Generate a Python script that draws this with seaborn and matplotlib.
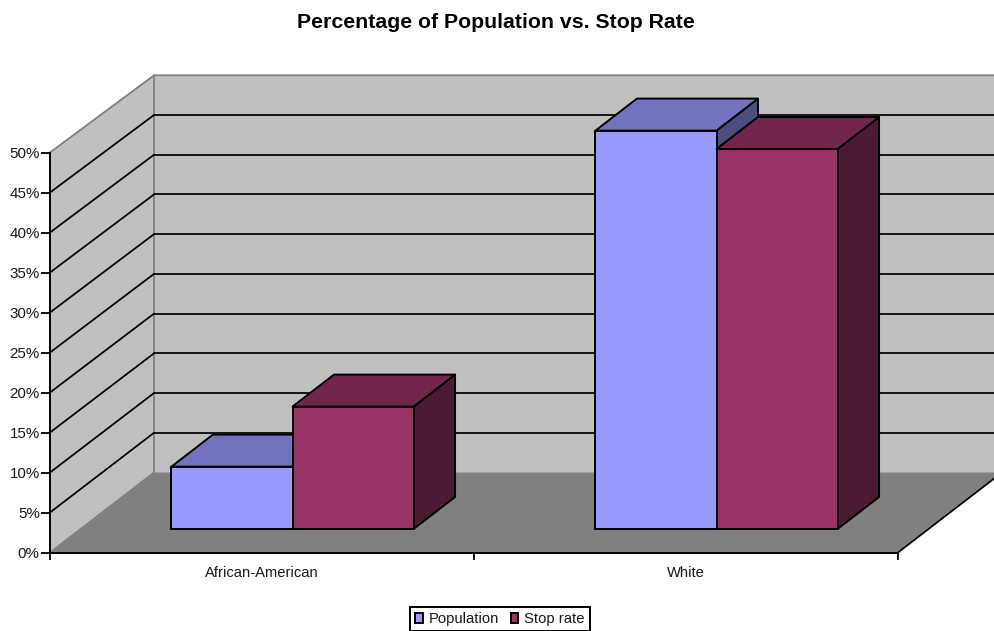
import matplotlib
matplotlib.use("Agg")
import matplotlib.pyplot as plt
import pandas as pd
import seaborn as sns
from matplotlib.patches import Polygon

# Chart content
categories = ["African-American", "White"]
series_names = ["Population", "Stop rate"]
population = [7.8, 49.8]
stop_rate = [15.3, 47.5]
y_ticks = [0, 5, 10, 15, 20, 25, 30, 35, 40, 45, 50]
y_labels = ["0%", "5%", "10%", "15%", "20%", "25%", "30%", "35%", "40%", "45%", "50%"]
title = "Percentage of Population vs. Stop Rate"

# Colours
front_colors = ["#9999FF", "#993366"]
top_colors = ["#7373BF", "#73264D"]
side_colors = ["#4D4D80", "#4D1A33"]
WALL = "#C0C0C0"
FLOOR = "#808080"

sns.set_theme(style="white")
plt.rcParams["font.family"] = ["Liberation Sans", "DejaVu Sans"]

W, H = 994, 631
fig = plt.figure(figsize=(W / 100, H / 100), dpi=100, facecolor="white")


def rect(left, right, bottom, top):
    return [left / W, (H - bottom) / H, (right - left) / W, (bottom - top) / H]


# Main axes hold the category/percent scales of the front plane
ax = fig.add_axes(rect(50, 898, 552.5, 152.5), facecolor="none")
ax.set_xlim(-0.5, 1.5)
ax.set_ylim(0, 50)

# Oblique depth of the chart box, in axis units
depth_x = 104 / 424
depth_y = 10.0
wall_scale = 0.993
x0, x1 = -0.5, 1.5
bx0, bx1 = x0 + depth_x, x1 + depth_x
back_top = 50 * wall_scale + depth_y

box = dict(clip_on=False, linewidth=0)
ax.add_patch(Polygon([(bx0, depth_y), (bx1, depth_y), (bx1, back_top), (bx0, back_top)],
                     facecolor=WALL, zorder=1, **box))
ax.add_patch(Polygon([(x0, 0), (bx0, depth_y), (bx0, back_top), (x0, 50)],
                     facecolor=WALL, zorder=1, **box))
ax.add_patch(Polygon([(x0, 0), (x1, 0), (bx1, depth_y), (bx0, depth_y)],
                     facecolor=FLOOR, zorder=1.5, **box))

# Grey outline of the walls
ax.plot([x0, bx0, bx1], [50, back_top, back_top], color=FLOOR, lw=1.3, clip_on=False, zorder=2)
ax.plot([x0, bx0, bx0], [0, depth_y, back_top], color=FLOOR, lw=1.3, clip_on=False, zorder=2)

# Gridlines run across the side wall and the back wall
for v in y_ticks[1:-1]:
    back_v = v * wall_scale + depth_y
    ax.plot([x0, bx0], [v, back_v], color="black", lw=1.25, clip_on=False, zorder=3)
    ax.plot([bx0, bx1], [back_v, back_v], color="black", lw=1.25, clip_on=False, zorder=3)

# Floor's right edge
ax.plot([x1, bx1], [0, depth_y], color="black", lw=1.25, clip_on=False, zorder=3)

# Axis styling
for name in ("top", "right"):
    ax.spines[name].set_visible(False)
for name in ("left", "bottom"):
    ax.spines[name].set_color("black")
    ax.spines[name].set_linewidth(1.4)
    ax.spines[name].set_zorder(4)
ax.set_yticks(y_ticks, y_labels)
ax.set_xticks([-0.5, 0.5, 1.5], ["", "", ""])
ax.set_xticks([0, 1], categories, minor=True)
ax.tick_params(axis="y", which="major", left=True, length=6.2, width=1.3, color="black",
               labelsize=10.9, labelcolor="#1a1a1a", pad=1.2)
ax.tick_params(axis="x", which="major", bottom=True, length=5, width=1.3, color="black")
ax.tick_params(axis="x", which="minor", bottom=False, length=0, labelsize=10.6,
               labelcolor="#1a1a1a", pad=9.5)
ax.grid(False)
ax.set_xlabel("")
ax.set_ylabel("")

# Bars stand on a plane set back into the floor
ax_bars = fig.add_axes(rect(50 + 30.5, 898 + 30.5, 552.5 - 23.5, 152.5 - 23.5), facecolor="none")
table = pd.DataFrame({
    "category": categories * 2,
    "series": [series_names[0]] * 2 + [series_names[1]] * 2,
    "value": population + stop_rate,
})
sns.barplot(data=table, x="category", y="value", hue="series", hue_order=series_names,
            palette=front_colors, saturation=1, width=0.571, gap=0, dodge=True,
            edgecolor="black", linewidth=1.4, ax=ax_bars)
ax_bars.set_xlim(-0.5, 1.5)
ax_bars.set_ylim(0, 50)

bar_dx = 41.5 / 424
bar_dy = 4.0
line = dict(edgecolor="black", linewidth=1.4, joinstyle="round", clip_on=False)
z = 2
for i, container in enumerate(ax_bars.containers):
    for bar in container:
        bl = bar.get_x()
        br = bl + bar.get_width()
        h = bar.get_height()
        ax_bars.add_patch(Polygon([(br, 0), (br + bar_dx, bar_dy), (br + bar_dx, h + bar_dy), (br, h)],
                                  facecolor=side_colors[i], zorder=z, **line))
        ax_bars.add_patch(Polygon([(bl, h), (br, h), (br + bar_dx, h + bar_dy), (bl + bar_dx, h + bar_dy)],
                                  facecolor=top_colors[i], zorder=z, **line))
        bar.set_zorder(z + 0.5)
        bar.set_clip_on(False)
        z += 1

# Legend along the bottom edge
sns.move_legend(ax_bars, loc="center", bbox_to_anchor=(500 / W, (H - 619) / H),
                bbox_transform=fig.transFigure, ncol=2, title=None, frameon=True,
                fontsize=10.7, handlelength=0.5, handleheight=0.7, handletextpad=0.42,
                columnspacing=0.75, borderpad=0.33, borderaxespad=0, fancybox=False,
                framealpha=1, edgecolor="black")
legend = ax_bars.get_legend()
legend.get_frame().set_linewidth(1.4)
legend.set_zorder(20)
for text in legend.get_texts():
    text.set_color("#1a1a1a")

ax_bars.set_axis_off()

fig.text(495.5 / W, (H - 23) / H, title, ha="center", va="center",
         fontsize=15.3, fontweight="bold", color="black")

fig.savefig("out.png", dpi=100, facecolor="white")
